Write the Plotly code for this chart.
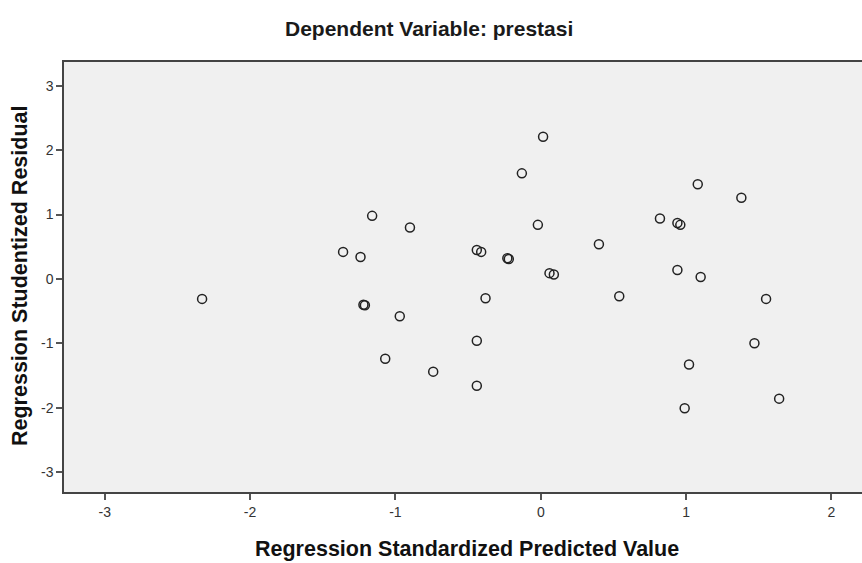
import plotly.graph_objects as go

pred = [-2.33, -1.36, -1.24, -1.16, -0.90, -1.22, -1.21, -0.97, -1.07, -0.74,
        -0.44, -0.41, -0.44, -0.44, -0.38, -0.23, -0.22, -0.13, 0.016, -0.02,
        0.06, 0.09, 0.40, 0.54, 0.82, 0.94, 0.96, 0.94, 1.10, 1.08,
        1.38, 1.55, 1.47, 1.02, 0.99, 1.64]
resid = [-0.31, 0.42, 0.34, 0.98, 0.80, -0.40, -0.41, -0.58, -1.24, -1.44,
         0.45, 0.42, -0.96, -1.66, -0.30, 0.32, 0.31, 1.64, 2.21, 0.84,
         0.09, 0.07, 0.54, -0.27, 0.94, 0.87, 0.84, 0.14, 0.03, 1.47,
         1.26, -0.31, -1.00, -1.33, -2.01, -1.86]

x_ticks = [-3, -2, -1, 0, 1, 2]
y_ticks = [-3, -2, -1, 0, 1, 2, 3]

FONT = "Liberation Sans, Arial, sans-serif"

fig = go.Figure()
fig.add_trace(go.Scatter(
    x=pred, y=resid, mode="markers",
    marker=dict(symbol="circle-open", size=9, color="#222222",
                line=dict(width=1.5, color="#222222")),
    showlegend=False, hoverinfo="skip"))

axis_font = dict(family=FONT, size=14, color="#333")

# plot area spans page x 64..862, y 62..492
def px_x(p):
    return (p - 64) / 798

def px_y(p):
    return (492 - p) / 430

fig.update_layout(
    width=862, height=563,
    margin=dict(l=64, r=0, t=62, b=71),
    paper_bgcolor="white", plot_bgcolor="#f0f0f0",
    font=dict(family=FONT),
    xaxis=dict(range=[-3.28, 2.21], tickvals=x_ticks, ticktext=[str(v) for v in x_ticks],
               showgrid=False, zeroline=False, showline=True, linecolor="#444",
               linewidth=1.5, mirror=True, ticks="outside", ticklen=6, tickwidth=1.5,
               tickcolor="#555", tickfont=axis_font),
    yaxis=dict(range=[-3.31, 3.37], tickvals=y_ticks, ticktext=[str(v) for v in y_ticks],
               showgrid=False, zeroline=False, showline=True, linecolor="#444",
               linewidth=1.5, ticks="outside", ticklen=6, tickwidth=1.5,
               tickcolor="#555", tickfont=axis_font),
    annotations=[
        dict(text="<b>Dependent Variable: prestasi</b>", xref="paper", yref="paper",
             x=px_x(429), y=px_y(29), showarrow=False,
             font=dict(size=21, color="#1a1a1a", family=FONT),
             xanchor="center", yanchor="middle"),
        dict(text="<b>Regression Standardized Predicted Value</b>", xref="paper", yref="paper",
             x=px_x(467), y=px_y(549), showarrow=False,
             font=dict(size=21.5, color="#111", family=FONT),
             xanchor="center", yanchor="middle"),
        dict(text="<b>Regression Studentized Residual</b>", xref="paper", yref="paper",
             x=px_x(20), y=px_y(276), showarrow=False, textangle=-90,
             font=dict(size=21.5, color="#111", family=FONT),
             xanchor="center", yanchor="middle"),
    ],
)
fig.write_html("out.html", config={"displayModeBar": False},
               post_script="document.body.style.margin='0';document.body.style.overflow='hidden';")
